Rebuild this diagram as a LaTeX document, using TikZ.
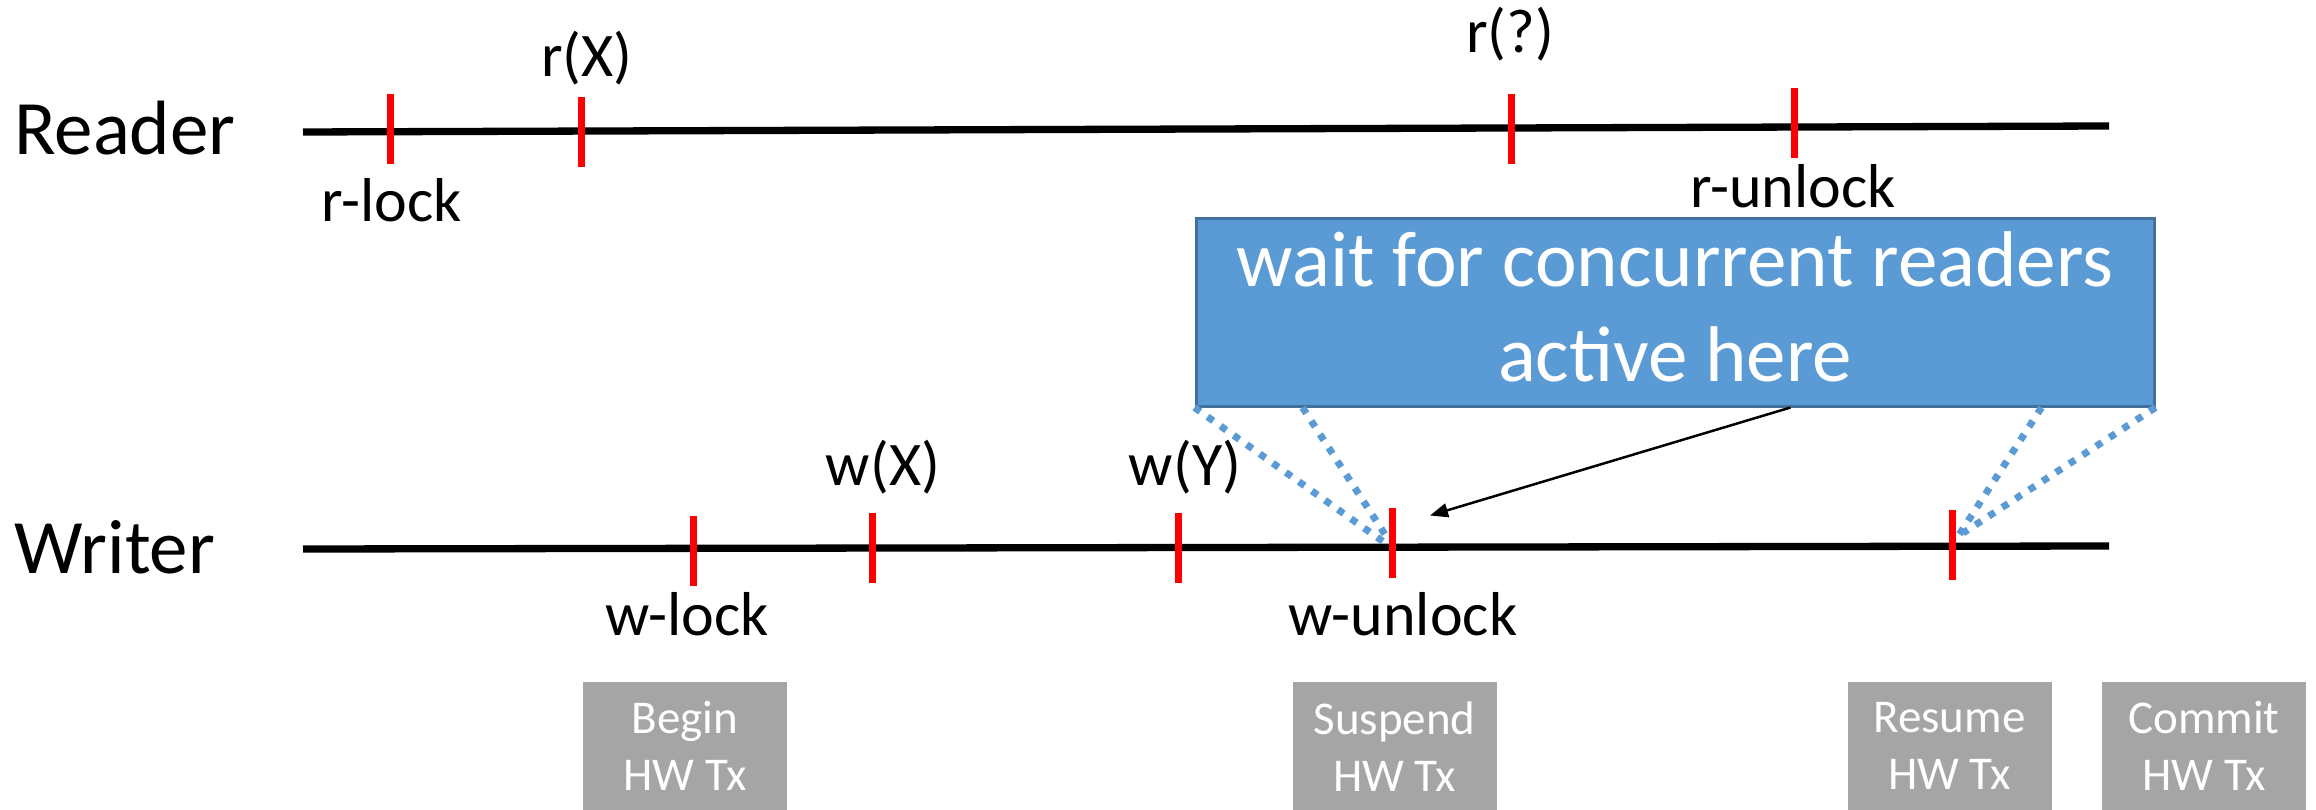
\documentclass[tikz,border=0pt]{standalone}
\usepackage{fontspec}
\setmainfont{Carlito}
\usetikzlibrary{arrows.meta,calc}
\definecolor{tickred}{HTML}{FF0000}
\definecolor{boxblue}{HTML}{5B9BD5}
\definecolor{boxedge}{HTML}{41719C}
\definecolor{txgray}{HTML}{A5A5A5}
\begin{document}
\begin{tikzpicture}[x=1pt,y=-1pt,
  timeline/.style={line width=7.3pt,black},
  redtick/.style={rectangle,fill=tickred,inner sep=0pt,minimum width=7pt,minimum height=70pt},
  lbl/.style={font=\fontsize{62}{74}\selectfont,anchor=base,inner sep=0pt},
  who/.style={font=\fontsize{77}{92}\selectfont,anchor=base west,inner sep=0pt},
  txbox/.style={rectangle,fill=txgray,text=white,inner sep=0pt,minimum width=204pt,minimum height=128pt,anchor=north,align=center,font=\fontsize{47}{57}\selectfont},
  bluebox/.style={rectangle,fill=boxblue,draw=boxedge,line width=3pt,minimum width=958pt,minimum height=187pt,inner sep=0pt},
  bluetext/.style={text=white,align=center,inner sep=0pt,font=\fontsize{79}{95}\selectfont},
  dotline/.style={draw=boxblue,line width=7pt,dash pattern=on 7pt off 9pt},
  pointer/.style={draw=black,line width=2.5pt,-{Triangle[length=18pt,width=14pt]}}
]
\useasboundingbox (0,0) rectangle (2316,810);

% row names
\node[who] (reader) at (14,155) {Reader};
\node[who] (writer) at (14,573) {Writer};

% time lines
\coordinate (rs) at (303,132);
\coordinate (re) at (2109,126);
\coordinate (ws) at (303,549);
\coordinate (we) at (2109,546);
\draw[timeline] (rs) -- (re);
\draw[timeline] (ws) -- (we);

% blue box
\node[bluebox] (box) at (1675,312.5) {};
\node[bluetext] (boxtxt) at (box.center) [yshift=6pt] {wait for concurrent readers\\active here};

% tick positions used by connectors
\coordinate (wunlockc) at (1392,542.5);
\coordinate (resumec) at (1952,545);

% dotted connectors
\coordinate (d1a) at (box.south west);
\coordinate (d2a) at ($(box.south west)+(108,0)$);
\coordinate (d3a) at ($(box.south east)+(-114,0)$);
\coordinate (d4a) at (box.south east);
\coordinate (d1b) at ($(wunlockc)+(-9,-1)$);
\coordinate (d2b) at ($(wunlockc)+(-5,-5)$);
\coordinate (d3b) at ($(resumec)+(5,-7)$);
\coordinate (d4b) at ($(resumec)+(11,-12)$);
\draw[dotline] (d1a) -- (d1b);
\draw[dotline] (d2a) -- (d2b);
\draw[dotline] (d3a) -- (d3b);
\draw[dotline] (d4a) -- (d4b);

% red ticks
\node[redtick] (rlock) at (390,129) {};
\node[redtick] (rx) at (581,132) {};
\node[redtick] (rq) at (1511,129) {};
\node[redtick] (runlock) at (1794,123.5) {};
\node[redtick] (wlock) at (693,550.5) {};
\node[redtick] (wx) at (872,548) {};
\node[redtick] (wy) at (1178,548) {};
\node[redtick] (wunlock) at (wunlockc) {};
\node[redtick] (resume) at (resumec) {};

% arrow
\coordinate (arrs) at ($(box.south west)+(596,0)$);
\coordinate (arrt) at ($(wunlock.center)+(38,-27)$);
\draw[pointer] (arrs) -- (arrt);

% labels
\node[lbl] (lrlock) at (392,222) {r-lock};
\node[lbl] (lrx) at (587,77) {r(X)};
\node[lbl] (lrq) at (1510,53) {r(?)};
\node[lbl] (lrunlock) at (1793,208) {r-unlock};
\node[lbl] (lwx) at (883,485) {w(X)};
\node[lbl] (lwy) at (1185,485) {w(Y)};
\node[lbl] (lwlock) at (687,635) {w-lock};
\node[lbl] (lwunlock) at (1403,635) {w-unlock};

% HW Tx boxes
\node[txbox] (tbegin) at (685,682) {Begin\\HW Tx};
\node[txbox] (tsusp) at (1394.5,682) {Suspend\\HW Tx};
\node[txbox] (tres) at (1949.5,682) {Resume\\HW Tx};
\node[txbox] (tcom) at (2204,682) {Commit\\HW Tx};
\end{tikzpicture}
\end{document}
